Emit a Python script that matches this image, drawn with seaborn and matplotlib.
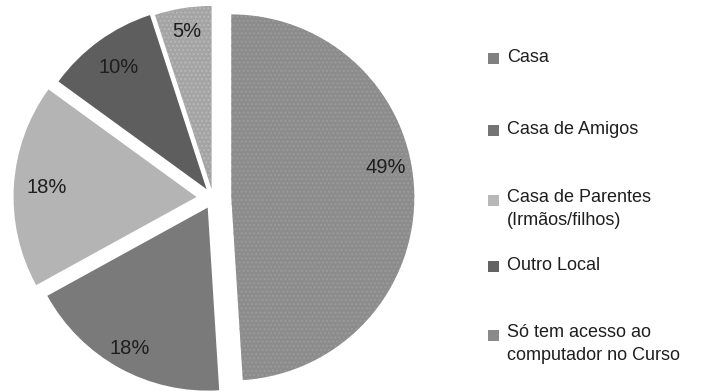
import matplotlib
matplotlib.use("Agg")
import matplotlib.pyplot as plt
from matplotlib.patches import Rectangle
import seaborn as sns
import numpy as np

categories = ["Casa", "Casa de Amigos", "Casa de Parentes\n(Irmãos/filhos)",
              "Outro Local", "Só tem acesso ao\ncomputador no Curso"]
values = [49, 18, 18, 10, 5]
pct_labels = ["49%", "18%", "18%", "10%", "5%"]

sns.set_theme(style="white")
plt.rcParams['font.family'] = ['Liberation Sans', 'DejaVu Sans']

W, H = 709, 392
fig = plt.figure(figsize=(W / 100, H / 100), dpi=100)
fig.patch.set_facecolor("white")

slice_colors = ["#8c8c8c", "#7a7a7a", "#b4b4b4", "#5e5e5e", "#a4a4a4"]
legend_colors = ["#808080", "#747474", "#b8b8b8", "#636363", "#8a8a8a"]
explode = [0.1, 0.06, 0.09, 0.06, 0.05]

R = 183
cx, cy = 213, 198
half = 1.2 * R
ax = fig.add_axes([(cx - half) / W, (H - cy - half) / H, 2 * half / W, 2 * half / H])
wedges, _ = ax.pie(values, colors=slice_colors, explode=explode, startangle=90,
                   counterclock=False, radius=1.0,
                   wedgeprops=dict(linewidth=0))
ax.set_xlim(-1.2, 1.2)
ax.set_ylim(-1.2, 1.2)
ax.set_aspect("equal")
ax.axis("off")
wedges[0].set_hatch("....")
wedges[0].set_edgecolor("#9a9a9a")
wedges[4].set_hatch("....")
wedges[4].set_edgecolor("#b8b8b8")

theta = 90.0
total = sum(values)
pctdist = [0.86, 0.88, 0.82, 0.82, 0.87]
for i, v in enumerate(values):
    span = 360.0 * v / total
    mid = np.deg2rad(theta - span / 2)
    d = pctdist[i] + explode[i]
    if i == 0:
        mid = np.deg2rad(10)
    ax.text(d * np.cos(mid), d * np.sin(mid), pct_labels[i], ha="center", va="center",
            fontsize=14.5, color="#1e1e1e")
    theta -= span

# legend
ys = [58, 130, 200, 266, 335]
for lab, col, y in zip(categories, legend_colors, ys):
    fig.patches.append(Rectangle((488 / W, (H - y - 5.5) / H), 11 / W, 11 / H,
                                 transform=fig.transFigure, facecolor=col,
                                 edgecolor="none"))
    if "\n" in lab:
        fig.text(507 / W, (H - y + 11) / H, lab, ha="left", va="top",
                 fontsize=13, color="#1e1e1e", linespacing=1.45)
    else:
        fig.text(507 / W, (H - y) / H, lab, ha="left", va="center",
                 fontsize=13, color="#1e1e1e")

fig.savefig("out.png", dpi=100, facecolor="white")
